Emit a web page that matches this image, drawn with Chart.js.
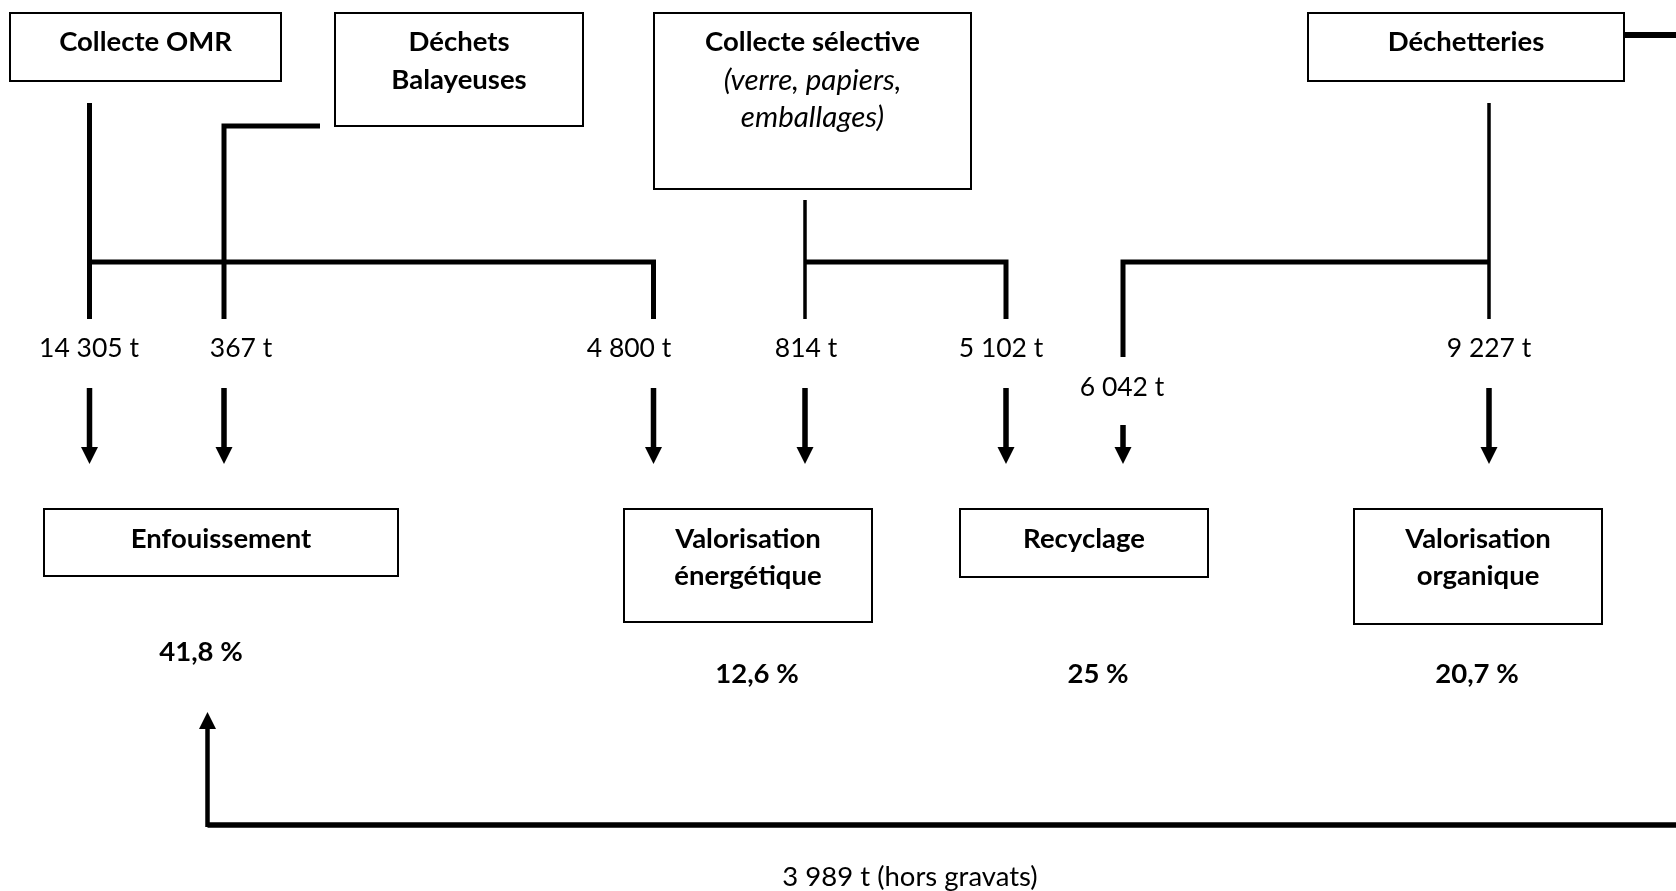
<!DOCTYPE html>
<html>
<head>
<meta charset="utf-8">
<script src="https://cdn.jsdelivr.net/npm/chart.js@4.4.1/dist/chart.umd.min.js"></script>
<style>
  html, body { margin: 0; padding: 0; background: #fff; }
  #flow { display: block; }
</style>
</head>
<body>
<canvas id="flow" width="1676" height="891"></canvas>
<script>
// --- data ---
const sources = ['Collecte OMR', 'Déchets\nBalayeuses', 'Collecte sélective', 'Déchetteries'];
const sourceNotes = ['', '', '(verre, papiers,\nemballages)', ''];
const flowTonnes = [14305, 367, 4800, 814, 5102, 6042, 9227];
const destinations = ['Enfouissement', 'Valorisation\nénergétique', 'Recyclage', 'Valorisation\norganique'];
const destShares = [41.8, 12.6, 25, 20.7];
const returnTonnes = 3989;
const returnNote = '(hors gravats)';

// --- layout (page pixels, used as scale values) ---
const W = 1676, H = 891;
const sourceBoxes = [
  { x0: 10, x1: 281, y0: 13, y1: 81 },
  { x0: 335, x1: 583, y0: 13, y1: 126 },
  { x0: 654, x1: 971, y0: 13, y1: 189 },
  { x0: 1308, x1: 1624, y0: 13, y1: 81 }
];
const destBoxes = [
  { x0: 44, x1: 398, y0: 509, y1: 576 },
  { x0: 624, x1: 872, y0: 509, y1: 622 },
  { x0: 960, x1: 1208, y0: 509, y1: 577 },
  { x0: 1354, x1: 1602, y0: 509, y1: 624 }
];
const shareSpots = [[201, 652], [757, 674], [1098, 674], [1477, 674]];
const flowSpots = [[89, 348], [241, 348], [629, 348], [806, 348], [1001, 348], [1122, 387], [1489, 348]];
const arrowX = [89.5, 224, 653.5, 805, 1006, 1123, 1489];
const arrowTop = [388, 388, 388, 388, 388, 425, 388];
const arrowTip = 463;
const headLen = 16, headHalf = 8.5;

const connectors = [
  { pts: [[89.5, 103], [89.5, 319]], w: 5 },
  { pts: [[320, 126], [224, 126], [224, 319]], w: 5 },
  { pts: [[89.5, 262], [653.5, 262], [653.5, 319]], w: 5 },
  { pts: [[805, 200], [805, 319]], w: 3.5 },
  { pts: [[805, 262], [1006, 262], [1006, 319]], w: 5 },
  { pts: [[1489, 103], [1489, 319]], w: 3.5 },
  { pts: [[1489, 262], [1123, 262], [1123, 357]], w: 5 },
  { pts: [[1624, 35], [W, 35]], w: 6 },
  { pts: [[W, 825], [207.5, 825]], w: 5.5 }
];
const returnArrow = { x: 207.5, y0: 827, tip: 713 };

const fmtT = v => String(v).replace(/\B(?=(\d{3})+(?!\d))/g, ' ') + ' t';
const fmtP = v => String(v).replace('.', ',') + ' %';

const FONT = 'Lato, "Open Sans", sans-serif';

const datasets = connectors.map(c => ({
  data: c.pts.map(p => ({ x: p[0], y: p[1] })),
  borderWidth: c.w
}));
arrowX.forEach((x, i) => {
  datasets.push({
    data: [{ x: x, y: arrowTop[i] }, { x: x, y: arrowTip - headLen + 1 }],
    borderWidth: 5.5,
    head: 'down'
  });
});
datasets.push({
  data: [{ x: returnArrow.x, y: returnArrow.y0 }, { x: returnArrow.x, y: returnArrow.tip + headLen - 1 }],
  borderWidth: 4.5,
  head: 'up'
});
datasets.forEach(d => {
  d.showLine = true;
  d.borderColor = '#000';
  d.pointRadius = 0;
  d.borderCapStyle = 'butt';
  d.borderJoinStyle = 'miter';
  d.fill = false;
});

const diagram = {
  id: 'diagram',
  afterDatasetsDraw(chart) {
    const ctx = chart.ctx;
    const sx = chart.scales.x, sy = chart.scales.y;
    const px = v => sx.getPixelForValue(v);
    const py = v => sy.getPixelForValue(v);

    ctx.save();
    // arrow heads
    ctx.fillStyle = '#000';
    chart.data.datasets.forEach(d => {
      if (!d.head) return;
      const end = d.data[d.data.length - 1];
      const x = px(end.x);
      const base = py(end.y);
      const dir = d.head === 'down' ? 1 : -1;
      ctx.beginPath();
      ctx.moveTo(x - headHalf, base - dir);
      ctx.lineTo(x + headHalf, base - dir);
      ctx.lineTo(x, base + dir * headLen);
      ctx.closePath();
      ctx.fill();
    });

    // boxes
    ctx.strokeStyle = '#000';
    ctx.lineWidth = 2;
    sourceBoxes.concat(destBoxes).forEach(b => {
      ctx.strokeRect(px(b.x0), py(b.y0), px(b.x1) - px(b.x0), py(b.y1) - py(b.y0));
    });

    ctx.textAlign = 'center';
    ctx.textBaseline = 'middle';
    ctx.fillStyle = '#000';
    const lines = (txt, cx, y, font, step) => {
      ctx.font = font;
      txt.split('\n').forEach((t, i) => ctx.fillText(t, px(cx), py(y + i * step)));
    };

    sources.forEach((s, i) => {
      const b = sourceBoxes[i];
      const cx = (b.x0 + b.x1) / 2;
      const n = s.split('\n').length;
      lines(s, cx, 42, 'bold 27.5px ' + FONT, 38);
      if (sourceNotes[i]) lines(sourceNotes[i], cx, 42 + n * 38, 'italic 29.5px ' + FONT, 37);
    });
    destinations.forEach((s, i) => {
      const b = destBoxes[i];
      lines(s, (b.x0 + b.x1) / 2, 539, 'bold 27.5px ' + FONT, 37);
    });
    destShares.forEach((v, i) => {
      lines(fmtP(v), shareSpots[i][0], shareSpots[i][1], 'bold 27.5px ' + FONT, 0);
    });
    flowTonnes.forEach((v, i) => {
      lines(fmtT(v), flowSpots[i][0], flowSpots[i][1], '26.5px ' + FONT, 0);
    });
    lines(fmtT(returnTonnes) + ' ' + returnNote, 910, 877, '27.5px ' + FONT, 0);
    ctx.restore();
  }
};

new Chart(document.getElementById('flow'), {
  type: 'scatter',
  data: { datasets: datasets },
  options: {
    responsive: false,
    animation: false,
    events: [],
    layout: { padding: 0 },
    plugins: { legend: { display: false }, tooltip: { enabled: false } },
    scales: {
      x: { type: 'linear', min: 0, max: W, display: false },
      y: { type: 'linear', min: 0, max: H, reverse: true, display: false }
    }
  },
  plugins: [diagram]
});
</script>
</body>
</html>
